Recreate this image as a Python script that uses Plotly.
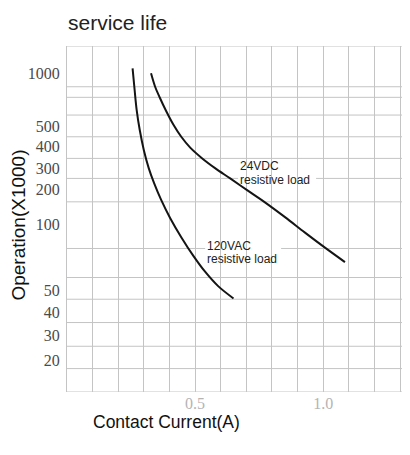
import numpy as np
import plotly.graph_objects as go

# ---------------- data ----------------
# 120VAC resistive load: contact current (A) vs operations (x1000)
ac_current = [0.256, 0.264, 0.272, 0.284, 0.300, 0.319, 0.340, 0.368, 0.403, 0.446, 0.494, 0.539, 0.590, 0.650]
ac_ops = [1068, 803, 617, 479, 382, 300, 224.5, 161.3, 113.5, 87.6, 71.7, 60.8, 52.2, 46.0]

# 24VDC resistive load
dc_current = [0.328, 0.344, 0.362, 0.387, 0.415, 0.446, 0.481, 0.528, 0.578, 0.637, 0.703, 0.770, 0.851, 0.929, 1.007, 1.085]
dc_ops = [1000, 838.6, 727.5, 609, 510, 445.6, 395.7, 342, 300, 245.9, 196.2, 156.1, 115.8, 91.9, 78.4, 67.3]

# y tick labels (operations x1000)
y_tick_values = [20, 30, 40, 50, 100, 200, 300, 400, 500, 1000]
y_tick_labels = ["20", "30", "40", "50", "100", "200", "300", "400", "500", "1000"]

# x ticks
x_tick_values = [round(0.1 * i, 1) for i in range(14)]
x_tick_labels = ["" if v not in (0.5, 1.0) else f"{v:.1f}" for v in x_tick_values]

# ---------------- custom (non-uniform) y scale of the datasheet ----------------
# position of each labelled value along the axis (axis units, bottom = 0)
Y_SCALE_POS = [31.7, 56.7, 79.7, 101.7, 167.2, 202.7, 223.7, 245.0, 265.7, 318.4]
Y_TOP = 345.7
GRID_POS = [0, 23.4, 45.7, 69.4, 92.7, 114.4, 143.4, 190, 213.4, 233.4,
            255, 276.7, 294.4, 305, 345.7]


def to_pos(values):
    lv = np.log10(np.asarray(values, dtype=float))
    lx = np.log10(y_tick_values)
    p = np.interp(lv, lx, Y_SCALE_POS)
    hi_slope = (Y_SCALE_POS[-1] - Y_SCALE_POS[-2]) / (lx[-1] - lx[-2])
    lo_slope = (Y_SCALE_POS[1] - Y_SCALE_POS[0]) / (lx[1] - lx[0])
    p = np.where(lv > lx[-1], Y_SCALE_POS[-1] + (lv - lx[-1]) * hi_slope, p)
    p = np.where(lv < lx[0], Y_SCALE_POS[0] + (lv - lx[0]) * lo_slope, p)
    return p


GRID_COLOR = "#c4c4c4"
SANS = "Liberation Sans, Arial, sans-serif"
SERIF = "Liberation Serif"
PX_PER_A = 256.4          # plot pixels per ampere
X0_PX = 66.7              # plot left edge in reference pixels
Y0_PX = 391.7             # plot bottom edge in reference pixels


def dx(px):
    return (px - X0_PX) / PX_PER_A


def dy(py):
    return Y0_PX - py


fig = go.Figure()
line_style = dict(color="#141414", width=2, shape="spline", smoothing=1.0)
fig.add_trace(go.Scatter(x=ac_current, y=to_pos(ac_ops), mode="lines",
                         line=line_style, hoverinfo="skip", showlegend=False))
fig.add_trace(go.Scatter(x=dc_current, y=to_pos(dc_ops), mode="lines",
                         line=line_style, hoverinfo="skip", showlegend=False))

x_max = (410 - X0_PX) / PX_PER_A

shapes = []
for gp in GRID_POS:
    shapes.append(dict(type="line", xref="paper", x0=0, x1=1, yref="y", y0=gp, y1=gp,
                       line=dict(color=GRID_COLOR, width=1), layer="below"))
# white label backgrounds (beneath the curves)
for (l, t, r, b) in [(238, 159.5, 316, 186), (205, 239.5, 281, 265)]:
    shapes.append(dict(type="rect", xref="x", yref="y", x0=dx(l), x1=dx(r), y0=dy(b), y1=dy(t),
                       fillcolor="white", line=dict(width=0), layer="below"))
fig.update_layout(shapes=shapes)

ann = []
ann.append(dict(text="service life", xref="paper", yref="paper", x=-0.002, y=1.108,
                xanchor="left", yanchor="top", showarrow=False,
                font=dict(family=SANS, size=21, color="#222")))
ann.append(dict(text="Operation(X1000)", xref="paper", yref="paper", x=-0.1419, y=0.482,
                xanchor="center", yanchor="middle", textangle=-90, showarrow=False,
                font=dict(family=SANS, size=19, color="#111")))
ann.append(dict(text="Contact Current(A)", xref="paper", yref="paper", x=0.289, y=-0.086,
                xanchor="center", yanchor="middle", showarrow=False,
                font=dict(family=SANS, size=17.5, color="#111")))


def label(text, px, py):
    return dict(text=text, xref="x", yref="y", x=dx(px), y=dy(py),
                xanchor="left", yanchor="middle", showarrow=False,
                borderpad=0, font=dict(family=SANS, size=12, color="#222"))


ann += [label("24VDC", 239, 166.3), label("resistive load", 239, 179.6),
        label("120VAC", 206, 246.3), label("resistive load", 206, 258.6)]
fig.update_layout(annotations=ann)

# page body has an 8px default margin: the figure is sized/offset to compensate
fig.update_layout(
    width=402, height=447,
    margin=dict(l=58.7, r=0, t=38, b=63.3, pad=0),
    paper_bgcolor="white", plot_bgcolor="white",
    xaxis=dict(range=[0, x_max], tickmode="array", tickvals=x_tick_values,
               ticktext=x_tick_labels, showgrid=True, gridcolor=GRID_COLOR, gridwidth=1,
               zeroline=False, showline=False, ticks="",
               automargin=False,
               tickfont=dict(family=SERIF, size=16, color="#b4b4b4"), fixedrange=True),
    yaxis=dict(range=[0, Y_TOP], tickmode="array", tickvals=list(Y_SCALE_POS),
               ticktext=y_tick_labels, showgrid=False, zeroline=False,
               showline=True, linecolor=GRID_COLOR, linewidth=1,
               ticks="outside", ticklen=3, tickcolor="rgba(0,0,0,0)", automargin=False,
               tickfont=dict(family=SERIF, size=16, color="#4a4a4a"), fixedrange=True),
)

fig.write_html("out.html")
